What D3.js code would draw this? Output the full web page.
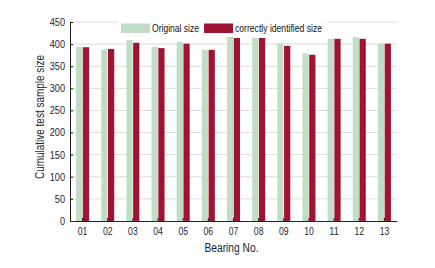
<!DOCTYPE html>
<html>
<head>
<meta charset="utf-8">
<script src="https://cdn.jsdelivr.net/npm/d3@7"></script>
<style>
  body { margin: 0; background: #fff; }
  text { font-family: "Liberation Sans", Arial, sans-serif; }
</style>
</head>
<body>
<div id="chart"></div>
<script>
// bearing numbers on the x axis
var bearings = ["01", "02", "03", "04", "05", "06", "07", "08", "09", "10", "11", "12", "13"];
// original sample size per bearing
var originalSize = [394, 388, 409, 394, 405, 387, 416, 414, 401, 379, 412, 416, 401];
// correctly identified sample size per bearing
var identifiedSize = [393, 389, 403, 391, 401, 387, 414, 414, 396, 376, 412, 412, 401];
var yTicks = [0, 50, 100, 150, 200, 250, 300, 350, 400, 450];

var seriesNames = ["Original size", "correctly identified size"];
var colors = ["#c1ddc6", "#a11332"];

var W = 435, H = 268;
var margin = {top: 22, right: 38, bottom: 47, left: 70},
    width = W - margin.left - margin.right,
    height = H - margin.top - margin.bottom;

var svg = d3.select("#chart").append("svg")
    .attr("width", W)
    .attr("height", H);

var g = svg.append("g")
    .attr("transform", "translate(" + margin.left + "," + margin.top + ")");

var x = d3.scaleBand().domain(bearings).range([0, width]).paddingInner(0).paddingOuter(0);
var x1 = d3.scaleBand().domain([0, 1]).range([x.bandwidth() / 2 - 6.5, x.bandwidth() / 2 + 6.5]).paddingInner(0.08);
var y = d3.scaleLinear().domain([0, 450]).range([height, 0]);

// grid lines
g.selectAll(".grid").data(yTicks.slice(1))
  .enter().append("line")
    .attr("x1", 0).attr("x2", width)
    .attr("y1", function(d) { return y(d); })
    .attr("y2", function(d) { return y(d); })
    .attr("stroke", "#dcdcdc")
    .attr("stroke-width", 1);

// bars
var rows = bearings.map(function(b, i) { return {b: b, v: [originalSize[i], identifiedSize[i]]}; });
var grp = g.selectAll(".grp").data(rows)
  .enter().append("g")
    .attr("transform", function(d) { return "translate(" + x(d.b) + ",0)"; });
grp.selectAll("rect").data(function(d) { return d.v; })
  .enter().append("rect")
    .attr("x", function(d, i) { return x1(i); })
    .attr("width", x1.bandwidth())
    .attr("y", function(d) { return y(d); })
    .attr("height", function(d) { return height - y(d); })
    .attr("fill", function(d, i) { return colors[i]; });

// y axis
var yAxis = g.append("g")
    .call(d3.axisLeft(y).tickValues(yTicks).tickSizeInner(-3).tickSizeOuter(0).tickPadding(5));
yAxis.select(".domain").attr("stroke", "#222");
yAxis.selectAll(".tick line").attr("stroke", "#222");
yAxis.selectAll("text").attr("font-size", 10.5).attr("fill", "#1b1f3a")
    .attr("textLength", function(d) { return String(d).length * 5.1; })
    .attr("lengthAdjust", "spacingAndGlyphs");

// x axis
var xAxis = g.append("g")
    .attr("transform", "translate(0," + height + ")")
    .call(d3.axisBottom(x).tickSizeInner(-3).tickSizeOuter(0).tickPadding(7));
xAxis.select(".domain").attr("stroke", "#222");
xAxis.selectAll(".tick line").attr("stroke", "#222");
xAxis.selectAll("text").attr("font-size", 10.5).attr("fill", "#1b1f3a")
    .attr("textLength", 9.6)
    .attr("lengthAdjust", "spacingAndGlyphs");

// axis titles
svg.append("text")
    .attr("x", 231.5)
    .attr("y", 251.5)
    .attr("text-anchor", "middle")
    .attr("font-size", 12)
    .attr("textLength", 54)
    .attr("lengthAdjust", "spacingAndGlyphs")
    .attr("fill", "#1b1f3a")
    .text("Bearing No.");

svg.append("text")
    .attr("transform", "translate(44,117) rotate(-90)")
    .attr("text-anchor", "middle")
    .attr("font-size", 12)
    .attr("textLength", 124)
    .attr("lengthAdjust", "spacingAndGlyphs")
    .attr("fill", "#1b1f3a")
    .text("Cumulative test sample size");

// legend
var leg = svg.append("g").attr("transform", "translate(118,15)");
leg.append("rect").attr("width", 209).attr("height", 20).attr("fill", "#fff");
var items = [{x: 3, w: 29, tx: 34, tw: 47}, {x: 86, w: 29, tx: 117, tw: 87}];
items.forEach(function(it, i) {
  leg.append("rect").attr("x", it.x).attr("y", 8.5).attr("width", it.w).attr("height", 9.5).attr("fill", colors[i]);
  leg.append("text").attr("x", it.tx).attr("y", 16.5)
    .attr("font-size", 10.5)
    .attr("textLength", it.tw)
    .attr("lengthAdjust", "spacingAndGlyphs")
    .attr("fill", "#111").text(seriesNames[i]);
});
</script>
</body>
</html>
